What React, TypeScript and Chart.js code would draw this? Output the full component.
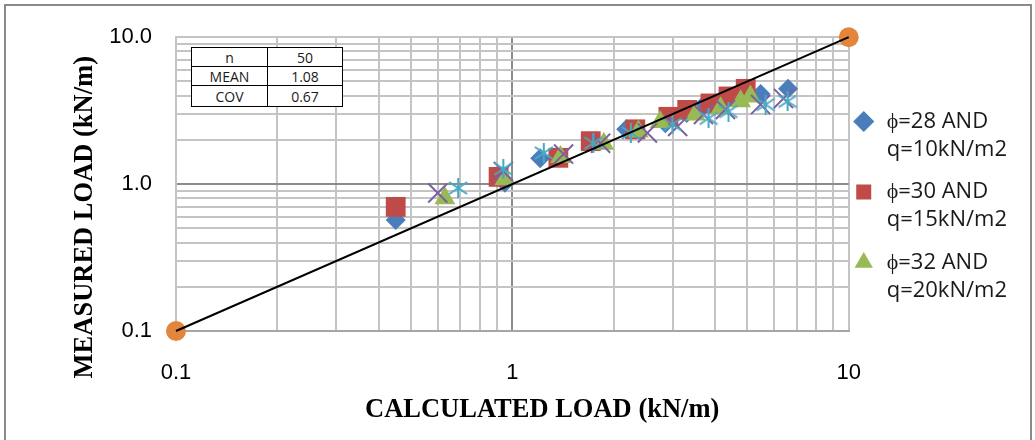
import React, { useEffect, useRef } from 'react';
import { Chart, registerables } from 'chart.js';

Chart.register(...registerables);

// ---- data ----
const seriesLabels = [
  ['ϕ=28 AND', 'q=10kN/m2'],
  ['ϕ=30 AND', 'q=15kN/m2'],
  ['ϕ=32 AND', 'q=20kN/m2'],
  ['ϕ=34 AND', 'q=25kN/m2'],
  ['ϕ=36 AND', 'q=30kN/m2'],
];

const calc28 = [0.45, 0.95, 1.21, 2.18, 2.85, 3.3, 3.67, 4.4, 5.47, 6.6];
const meas28 = [0.57, 1.02, 1.5, 2.36, 2.6, 3.05, 3.38, 3.9, 4.1, 4.45];

const calc30 = [0.45, 0.91, 1.37, 1.71, 2.32, 2.91, 3.31, 3.88, 4.39, 4.94];
const meas30 = [0.7, 1.12, 1.51, 1.96, 2.36, 2.87, 3.2, 3.54, 3.95, 4.45];

const calc32 = [0.63, 0.95, 1.39, 1.87, 2.37, 2.75, 3.5, 4.16, 4.77, 5.1];
const meas32 = [0.8, 1.08, 1.53, 1.88, 2.28, 2.65, 2.98, 3.28, 3.66, 3.95];

const calc34 = [0.6, 0.94, 1.42, 1.83, 2.52, 3.1, 3.7, 4.3, 5.47, 6.4];
const meas34 = [0.87, 1.22, 1.6, 1.9, 2.23, 2.47, 2.98, 3.22, 3.48, 3.83];

const calc36 = [0.69, 0.94, 1.24, 1.74, 2.25, 2.99, 3.83, 4.39, 5.66, 6.58];
const meas36 = [0.94, 1.27, 1.63, 1.9, 2.23, 2.55, 2.8, 3.12, 3.48, 3.66];

const lineCalc = [0.1, 10];
const lineMeas = [0.1, 10];

const gridValues = [
  0.1, 0.2, 0.3, 0.4, 0.5, 0.6, 0.7, 0.8, 0.9,
  1, 2, 3, 4, 5, 6, 7, 8, 9, 10,
];
const xTickValues = [0.1, 1, 10];
const xTickLabels = ['0.1', '1', '10'];
const yTickValues = [0.1, 1, 10];
const yTickLabels = ['0.1', '1.0', '10.0'];

const xTitle = 'CALCULATED LOAD (kN/m)';
const yTitle = 'MEASURED LOAD (kN/m)';

const statNames = ['n', 'MEAN', 'COV'];
const statValues = ['50', '1.08', '0.67'];

const colors = ['#4A7EBB', '#BE4B48', '#98B954', '#7D60A0', '#46AAC5'];
const orange = '#E3853A';

function pts(xs: number[], ys: number[]) {
  return xs.map((x, i) => ({ x, y: ys[i] }));
}

function labelFor(values: number[], labels: string[], v: number) {
  for (let i = 0; i < values.length; i++) {
    if (Math.abs(values[i] - v) < 1e-9) return labels[i];
  }
  return '';
}

function makeAsterisk(color: string) {
  const c = document.createElement('canvas');
  c.width = 20;
  c.height = 20;
  const g = c.getContext('2d')!;
  g.strokeStyle = color;
  g.lineWidth = 2;
  g.beginPath();
  g.moveTo(10, 0);
  g.lineTo(10, 20);
  g.moveTo(1, 4);
  g.lineTo(19, 16);
  g.moveTo(19, 4);
  g.lineTo(1, 16);
  g.stroke();
  return c;
}

export default function App() {
  const ref = useRef<HTMLCanvasElement>(null);

  useEffect(() => {
    if (!ref.current) return;
    const asterisk = makeAsterisk(colors[4]);
    const gridColor = (ctx: any) =>
      ctx.tick && Math.abs(ctx.tick.value - 1) < 1e-9 ? '#8c8c8c' : '#c4c4c4';

    const chart = new Chart(ref.current, {
      type: 'scatter',
      data: {
        datasets: [
          {
            label: seriesLabels[0].join(' '),
            data: pts(calc28, meas28),
            pointStyle: 'rectRot',
            pointRadius: 10,
            backgroundColor: colors[0],
            borderColor: colors[0],
            pointBorderWidth: 0,
            order: 7,
            clip: false,
          },
          {
            label: seriesLabels[1].join(' '),
            data: pts(calc30, meas30),
            pointStyle: 'rect',
            pointRadius: 14,
            backgroundColor: colors[1],
            borderColor: colors[1],
            pointBorderWidth: 0,
            order: 6,
            clip: false,
          },
          {
            label: seriesLabels[2].join(' '),
            data: pts(calc32, meas32),
            pointStyle: 'triangle',
            pointRadius: 12,
            backgroundColor: colors[2],
            borderColor: colors[2],
            pointBorderWidth: 0,
            order: 5,
            clip: false,
          },
          {
            label: seriesLabels[3].join(' '),
            data: pts(calc34, meas34),
            pointStyle: 'crossRot',
            pointRadius: 13.5,
            backgroundColor: colors[3],
            borderColor: colors[3],
            pointBorderWidth: 2,
            order: 4,
            clip: false,
          },
          {
            label: seriesLabels[4].join(' '),
            data: pts(calc36, meas36),
            pointStyle: asterisk,
            pointRadius: 10,
            backgroundColor: colors[4],
            borderColor: colors[4],
            pointBorderWidth: 0,
            order: 3,
            clip: false,
          },
          {
            label: 'ends',
            data: pts(lineCalc, lineMeas),
            pointStyle: 'circle',
            pointRadius: 10,
            backgroundColor: orange,
            borderColor: orange,
            pointBorderWidth: 0,
            order: 2,
            clip: false,
          },
          {
            label: '1:1',
            data: pts(lineCalc, lineMeas),
            showLine: true,
            pointRadius: 0,
            borderColor: '#000',
            borderWidth: 2,
            order: 1,
            clip: false,
          } as any,
        ],
      },
      options: {
        responsive: false,
        animation: false,
        events: [],
        layout: { padding: { top: 36, right: 18, bottom: 0, left: 0 } },
        plugins: {
          tooltip: { enabled: false },
          legend: {
            position: 'right',
            align: 'start',
            title: {
              display: true,
              text: '',
              padding: { top: 48, bottom: 0 },
              font: { size: 10, lineHeight: 1.2 },
            },
            labels: {
              usePointStyle: true,
              boxWidth: 1,
              boxHeight: 15,
              padding: 14.5,
              color: '#1a1a1a',
              font: { family: 'Open Sans', size: 22, lineHeight: 28 / 22 },
              filter: (item: any) => item.datasetIndex < 3,
              sort: (a: any, b: any) => a.datasetIndex - b.datasetIndex,
              generateLabels: (c: any) => {
                const items = (Chart.defaults.plugins.legend.labels as any).generateLabels(c);
                return items.map((it: any) => ({
                  ...it,
                  text: seriesLabels[it.datasetIndex]
                    ? seriesLabels[it.datasetIndex].map((s) => '  ' + s)
                    : it.text,
                  lineWidth: 0,
                }));
              },
            },
          },
        },
        scales: {
          x: {
            type: 'logarithmic',
            min: 0.1,
            max: 10,
            afterBuildTicks: (s: any) => {
              s.ticks = gridValues.map((v) => ({ value: v }));
            },
            afterFit: (s: any) => {
              s.height = 109;
            },
            ticks: {
              autoSkip: false,
              maxRotation: 0,
              minRotation: 0,
              padding: 29,
              color: '#000',
              font: { family: 'Liberation Sans', size: 22 },
              callback: (v: any) => labelFor(xTickValues, xTickLabels, Number(v)),
            },
            grid: { color: gridColor, lineWidth: 2, drawTicks: false },
            border: { display: true, color: '#a6a6a6', width: 2 },
            title: {
              display: true,
              text: '         ' + xTitle,
              color: '#000',
              font: { family: 'Liberation Serif', size: 26.5, weight: 'bold', lineHeight: 1.2 },
              padding: { top: 0, bottom: 14 },
            },
          },
          y: {
            type: 'logarithmic',
            min: 0.1,
            max: 10,
            afterBuildTicks: (s: any) => {
              s.ticks = gridValues.map((v) => ({ value: v }));
            },
            afterFit: (s: any) => {
              s.width = 176;
            },
            ticks: {
              autoSkip: false,
              padding: 24,
              color: '#000',
              font: { family: 'Liberation Sans', size: 22 },
              callback: (v: any) => labelFor(yTickValues, yTickLabels, Number(v)),
            },
            grid: { color: gridColor, lineWidth: 2, drawTicks: false },
            border: { display: true, color: '#c4c4c4', width: 2 },
            title: {
              display: true,
              text: yTitle + '          ',
              color: '#000',
              font: { family: 'Liberation Serif', size: 26.5, weight: 'bold', lineHeight: 1.2 },
              padding: { top: 69, bottom: 0 },
            },
          },
        },
      } as any,
    });
    return () => chart.destroy();
  }, []);

  const cell: React.CSSProperties = {
    border: '1px solid #000',
    padding: 0,
    textAlign: 'center',
    fontFamily: 'Open Sans',
    fontSize: 14,
    lineHeight: '17px',
    color: '#1a1a1a',
  };

  return (
    <div
      style={{
        position: 'fixed',
        left: 0,
        top: 0,
        width: 1035,
        height: 440,
        background: '#fff',
        overflow: 'hidden',
      }}
    >
      <div
        style={{
          position: 'absolute',
          left: 4,
          top: 4,
          width: 1024,
          height: 460,
          borderLeft: '2px solid #8a8a8a',
          borderTop: '2px solid #8a8a8a',
          borderRight: '2px solid #8a8a8a',
        }}
      />
      <canvas
        ref={ref}
        width={1035}
        height={440}
        style={{ position: 'absolute', left: 0, top: 0 }}
      />
      <table
        style={{
          position: 'absolute',
          left: 191,
          top: 47,
          borderCollapse: 'collapse',
          background: '#fff',
          borderTop: '1px solid #aaa',
          borderLeft: '1px solid #aaa',
        }}
      >
        <tbody>
          {statNames.map((n, i) => (
            <tr key={n} style={{ height: i === 2 ? 21 : 19 }}>
              <td style={{ ...cell, width: 75 }}>{n}</td>
              <td style={{ ...cell, width: 74 }}>{statValues[i]}</td>
            </tr>
          ))}
        </tbody>
      </table>
    </div>
  );
}
